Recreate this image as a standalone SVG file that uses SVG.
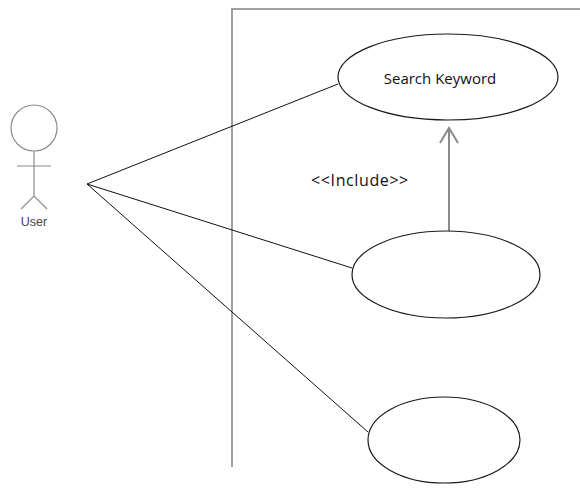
<svg xmlns="http://www.w3.org/2000/svg" width="580" height="497" viewBox="0 0 580 497">
  <style>
    .boundary { fill: none; stroke: #a0a0a0; stroke-width: 2; }
    .actor { fill: none; stroke: #8c8c8c; stroke-width: 1.2; }
    .usecase { fill: #ffffff; stroke: #1a1a1a; stroke-width: 1.2; }
    .assoc { stroke: #111111; stroke-width: 1; fill: none; }
    .include { stroke: #8a8a8a; stroke-width: 2; fill: none; }
    .label { font-family: "Open Sans", "Noto Sans", "Liberation Sans", sans-serif; fill: #111111; }
    .actor-label { font-family: "Liberation Sans", Arial, sans-serif; font-size: 12.5px; fill: #444444; }
  </style>

  <rect width="580" height="497" fill="#ffffff"/>

  <!-- system boundary -->
  <path class="boundary" d="M232,467 V9 H580"/>

  <!-- actor -->
  <g id="user">
    <circle class="actor" cx="34" cy="128" r="23"/>
    <line class="actor" x1="34" y1="151" x2="34" y2="196"/>
    <line class="actor" x1="17" y1="166" x2="51" y2="166"/>
    <polyline class="actor" points="21,209 34,196 47,209"/>
    <text class="actor-label" x="34" y="226" text-anchor="middle">User</text>
  </g>

  <!-- connectors -->
  <g id="connectors">
    <line class="assoc" x1="87" y1="184" x2="338" y2="84"/>
    <line class="assoc" x1="87" y1="184" x2="352" y2="268"/>
    <line class="assoc" x1="87" y1="184" x2="368" y2="432"/>
    <line class="include" x1="449" y1="231" x2="449" y2="128"/>
    <polyline class="include" points="440,143 449,128 458,143"/>
    <text class="label" x="360" y="186" font-size="16" letter-spacing="0.6" text-anchor="middle">&lt;&lt;Include&gt;&gt;</text>
  </g>

  <!-- use cases -->
  <g id="search-keyword">
    <ellipse class="usecase" cx="448" cy="77" rx="110" ry="43"/>
    <text class="label" x="440" y="84" font-size="15" text-anchor="middle">Search Keyword</text>
  </g>
  <g id="usecase-2">
    <ellipse class="usecase" cx="446" cy="274.5" rx="94" ry="43.5"/>
  </g>
  <g id="usecase-3">
    <ellipse class="usecase" cx="444" cy="440" rx="76" ry="43"/>
  </g>
</svg>
